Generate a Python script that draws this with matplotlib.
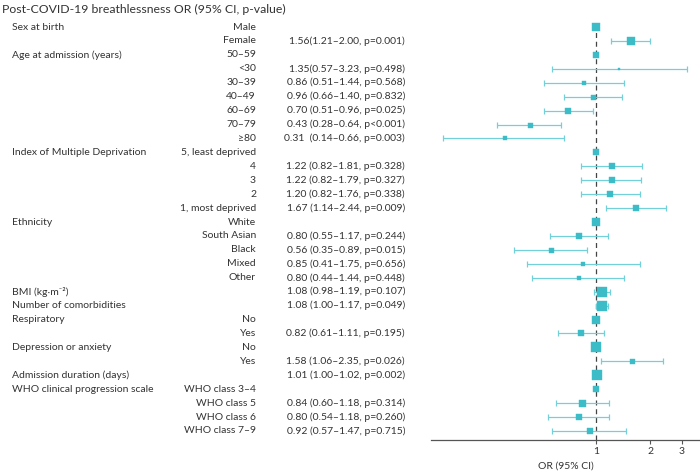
import numpy as np
import matplotlib
matplotlib.use("Agg")
import matplotlib.pyplot as plt
from matplotlib.transforms import blended_transform_factory

# rows of the forest plot, top to bottom
groups = ["Sex at birth", "", "Age at admission (years)", "", "", "", "", "", "",
          "Index of Multiple Deprivation", "", "", "", "",
          "Ethnicity", "", "", "", "",
          "BMI (kg\u00b7m\u207b\u00b2)", "Number of comorbidities",
          "Respiratory", "", "Depression or anxiety", "",
          "Admission duration (days)",
          "WHO clinical progression scale", "", "", ""]
levels = ["Male", "Female", "50\u201359", "<30", "30\u201339", "40\u201349", "60\u201369", "70\u201379", "\u226580",
          "5, least deprived", "4", "3", "2", "1, most deprived",
          "White", "South Asian", "Black", "Mixed", "Other",
          "", "",
          "No", "Yes", "No", "Yes",
          "",
          "WHO class 3\u20134", "WHO class 5", "WHO class 6", "WHO class 7\u20139"]
odds = [1.00, 1.56, 1.00, 1.35, 0.86, 0.96, 0.70, 0.43, 0.31,
        1.00, 1.22, 1.22, 1.20, 1.67,
        1.00, 0.80, 0.56, 0.85, 0.80,
        1.08, 1.08,
        1.00, 0.82, 1.00, 1.58,
        1.01,
        1.00, 0.84, 0.80, 0.92]
ci_low = [np.nan, 1.21, np.nan, 0.57, 0.51, 0.66, 0.51, 0.28, 0.14,
          np.nan, 0.82, 0.82, 0.82, 1.14,
          np.nan, 0.55, 0.35, 0.41, 0.44,
          0.98, 1.00,
          np.nan, 0.61, np.nan, 1.06,
          1.00,
          np.nan, 0.60, 0.54, 0.57]
ci_high = [np.nan, 2.00, np.nan, 3.23, 1.44, 1.40, 0.96, 0.64, 0.66,
           np.nan, 1.81, 1.79, 1.76, 2.44,
           np.nan, 1.17, 0.89, 1.75, 1.44,
           1.19, 1.17,
           np.nan, 1.11, np.nan, 2.35,
           1.02,
           np.nan, 1.18, 1.18, 1.47]
p_text = ["", "p=0.001", "", "p=0.498", "p=0.568", "p=0.832", "p=0.025", "p<0.001", "p=0.003",
          "", "p=0.328", "p=0.327", "p=0.338", "p=0.009",
          "", "p=0.244", "p=0.015", "p=0.656", "p=0.448",
          "p=0.107", "p=0.049",
          "", "p=0.195", "", "p=0.026",
          "p=0.002",
          "", "p=0.314", "p=0.260", "p=0.715"]
x_ticks = [1, 2, 3]

# box size of each estimate in pixels (study weight)
box_px = [8, 8.5, 6, 2.7, 4, 5, 6.5, 5, 3.5,
          5.5, 5.5, 5.5, 5.5, 5.5,
          8.5, 5.5, 5, 3.5, 4,
          10, 10,
          8.5, 6, 9.5, 5,
          9.5,
          5.5, 7, 5.5, 5.5]

W, H, DPI = 700, 473, 100
TXT = "#333333"
BOX = "#3bbcc6"
BAR = "#72d0d8"
plt.rcParams["font.family"] = ["Lato", "DejaVu Sans"]
FS = 7.5

fig = plt.figure(figsize=(W / DPI, H / DPI), dpi=DPI)
row0, step = 27, 13.93
n = len(odds)
y_top_px, y_bot_px = 20, 440
ax = fig.add_axes([431 / W, (H - y_bot_px) / H, (W - 431) / W, (y_bot_px - y_top_px) / H])
ax.set_xscale("log")
ax.set_xlim(0.12, 3.80)
ax.set_ylim((y_bot_px - row0) / step, (y_top_px - row0) / step)
ax.patch.set_alpha(0)

ax.axvline(1, color="#444444", lw=0.9, dashes=(4, 3), zorder=1)
rows = np.arange(n)
for i in rows:
    if not np.isnan(ci_low[i]):
        ax.errorbar(odds[i], i, xerr=[[odds[i] - ci_low[i]], [ci_high[i] - odds[i]]],
                    fmt="none", ecolor=BAR, elinewidth=0.9, capsize=2, capthick=0.9, zorder=2)
    ax.plot(odds[i], i, marker="s", ms=box_px[i] * 72 / DPI, color=BOX, mec=BOX, mew=0.3, zorder=3)

for s in ["top", "right", "left"]:
    ax.spines[s].set_visible(False)
ax.spines["bottom"].set_color("#555555")
ax.spines["bottom"].set_linewidth(0.9)
ax.set_yticks([])
ax.set_xticks(x_ticks)
ax.set_xticklabels([str(t) for t in x_ticks])
ax.xaxis.set_minor_locator(matplotlib.ticker.NullLocator())
ax.tick_params(axis="x", length=3, width=0.8, color="#555555", labelsize=FS, labelcolor=TXT, pad=2)
ax.set_xlabel("OR (95% CI)", fontsize=FS, color=TXT, labelpad=4)

tr = blended_transform_factory(fig.transFigure, ax.transData)
for i in rows:
    if groups[i]:
        fig.text(12 / W, i, groups[i], transform=tr, ha="left", va="center", fontsize=FS, color=TXT)
    if levels[i]:
        fig.text(256 / W, i, levels[i], transform=tr, ha="right", va="center", fontsize=FS, color=TXT)
    if p_text[i]:
        sep = "" if i in (1, 3) else ("  " if i == 8 else " ")
        label = f"{odds[i]:.2f}{sep}({ci_low[i]:.2f}\u2013{ci_high[i]:.2f}, {p_text[i]})"
        fig.text(405 / W, i, label, transform=tr, ha="right", va="center", fontsize=FS, color=TXT)

fig.text(2 / W, 1 - 9 / H, "Post-COVID-19 breathlessness OR (95% CI, p-value)",
         ha="left", va="center", fontsize=8.8, color=TXT)

fig.savefig("out.png", dpi=DPI)
